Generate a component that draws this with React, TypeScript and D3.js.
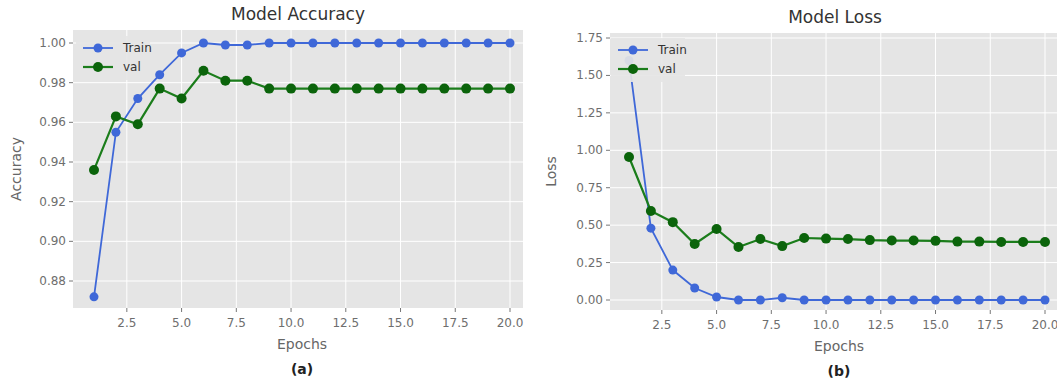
import React from "react";
import * as d3 from "d3";

const epochs = d3.range(1, 21);

const accTrain = [0.872, 0.955, 0.972, 0.984, 0.995, 1.0, 0.999, 0.999, 1.0, 1.0, 1.0, 1.0, 1.0, 1.0, 1.0, 1.0, 1.0, 1.0, 1.0, 1.0];
const accVal = [0.936, 0.963, 0.959, 0.977, 0.972, 0.986, 0.981, 0.981, 0.977, 0.977, 0.977, 0.977, 0.977, 0.977, 0.977, 0.977, 0.977, 0.977, 0.977, 0.977];

const lossTrain = [1.6, 0.48, 0.2, 0.08, 0.02, 0.0, 0.0, 0.015, 0.0, 0.0, 0.0, 0.0, 0.0, 0.0, 0.0, 0.0, 0.0, 0.0, 0.0, 0.0];
const lossVal = [0.955, 0.595, 0.52, 0.374, 0.474, 0.354, 0.407, 0.36, 0.414, 0.41, 0.407, 0.4, 0.397, 0.397, 0.395, 0.39, 0.39, 0.388, 0.388, 0.388];

const xTicks = [2.5, 5.0, 7.5, 10.0, 12.5, 15.0, 17.5, 20.0];
const accTicks = [0.88, 0.9, 0.92, 0.94, 0.96, 0.98, 1.0];
const lossTicks = [0.0, 0.25, 0.5, 0.75, 1.0, 1.25, 1.5, 1.75];

const TRAIN = "#3f68d8";
const VAL_LINE = "#1b7d1b";
const VAL_DOT = "#0b640b";
const FONT = "DejaVu Sans, sans-serif";

type PanelProps = {
  frame: { left: number; right: number; top: number; bottom: number };
  x1: number; // pixel of epoch 1
  x20: number; // pixel of epoch 20
  yDomain: [number, number];
  yRange: [number, number];
  yTicks: number[];
  train: number[];
  val: number[];
  title: string;
  ylabel: string;
  ylabelX: number;
  caption: string;
  legend: { x: number; y: number };
};

const Panel = (p: PanelProps) => {
  const { frame } = p;
  const x = d3.scaleLinear().domain([1, 20]).range([p.x1, p.x20]);
  const y = d3.scaleLinear().domain(p.yDomain).range(p.yRange);
  const line = d3
    .line<number>()
    .x((_, i) => x(epochs[i]))
    .y((d) => y(d));
  const cx = (frame.left + frame.right) / 2;
  const cy = (frame.top + frame.bottom) / 2;
  const clipId = `clip-${p.caption.replace(/\W/g, "")}`;

  return (
    <g fontFamily={FONT}>
      <defs>
        <clipPath id={clipId}>
          <rect x={frame.left} y={frame.top} width={frame.right - frame.left} height={frame.bottom - frame.top} />
        </clipPath>
      </defs>
      <rect x={frame.left} y={frame.top} width={frame.right - frame.left} height={frame.bottom - frame.top} fill="#e5e5e5" />
      {/* grid */}
      {xTicks.map((t) => (
        <line key={"gx" + t} x1={x(t)} x2={x(t)} y1={frame.top} y2={frame.bottom} stroke="#fff" strokeWidth={1} />
      ))}
      {p.yTicks.map((t) => (
        <line key={"gy" + t} x1={frame.left} x2={frame.right} y1={y(t)} y2={y(t)} stroke="#fff" strokeWidth={1} />
      ))}
      {/* ticks */}
      {xTicks.map((t) => (
        <g key={"tx" + t}>
          <line x1={x(t)} x2={x(t)} y1={frame.bottom} y2={frame.bottom + 4} stroke="#777" />
          <text x={x(t)} y={frame.bottom + 19} textAnchor="middle" fontSize={12} fill="#6e6e6e">
            {t.toFixed(1)}
          </text>
        </g>
      ))}
      {p.yTicks.map((t) => (
        <g key={"ty" + t}>
          <line x1={frame.left - 4} x2={frame.left} y1={y(t)} y2={y(t)} stroke="#777" />
          <text x={frame.left - 7} y={y(t) + 4} textAnchor="end" fontSize={12} fill="#6e6e6e">
            {t.toFixed(2)}
          </text>
        </g>
      ))}
      {/* series */}
      <g clipPath={`url(#${clipId})`}>
        <path d={line(p.train) ?? ""} fill="none" stroke={TRAIN} strokeWidth={1.8} />
        {p.train.map((v, i) => (
          <circle key={"tr" + i} cx={x(epochs[i])} cy={y(v)} r={4.5} fill={TRAIN} />
        ))}
        <path d={line(p.val) ?? ""} fill="none" stroke={VAL_LINE} strokeWidth={2.2} />
        {p.val.map((v, i) => (
          <circle key={"va" + i} cx={x(epochs[i])} cy={y(v)} r={5} fill={VAL_DOT} />
        ))}
      </g>
      {/* legend */}
      <g transform={`translate(${p.legend.x},${p.legend.y})`}>
        <rect x={-7} y={-12} width={74} height={44} fill="#e5e5e5" opacity={0.92} />
        <line x1={0} x2={30} y1={0} y2={0} stroke={TRAIN} strokeWidth={1.8} />
        <circle cx={15} cy={0} r={4.5} fill={TRAIN} />
        <text x={40} y={4} fontSize={12} fill="#333">Train</text>
        <line x1={0} x2={30} y1={19} y2={19} stroke={VAL_LINE} strokeWidth={2.2} />
        <circle cx={15} cy={19} r={5} fill={VAL_DOT} />
        <text x={40} y={23} fontSize={12} fill="#333">val</text>
      </g>
      {/* labels */}
      <text x={cx} y={frame.top - 10} textAnchor="middle" fontSize={17} fill="#333">
        {p.title}
      </text>
      <text x={cx + 4} y={frame.bottom + 41} textAnchor="middle" fontSize={14} fill="#666">
        Epochs
      </text>
      <text x={cx + 4} y={frame.bottom + 66} textAnchor="middle" fontSize={14} fontWeight="bold" fill="#222">
        {p.caption}
      </text>
      <text
        transform={`translate(${p.ylabelX},${cy}) rotate(-90)`}
        textAnchor="middle"
        fontSize={14}
        fill="#666"
      >
        {p.ylabel}
      </text>
    </g>
  );
};

export default function App() {
  return (
    <svg
      width={1057}
      height={381}
      style={{ position: "absolute", left: 0, top: 0, background: "#fff" }}
    >
      <Panel
        frame={{ left: 73, right: 523, top: 30, bottom: 308 }}
        x1={94}
        x20={510}
        yDomain={[0.88, 1.0]}
        yRange={[281, 43]}
        yTicks={accTicks}
        train={accTrain}
        val={accVal}
        title="Model Accuracy"
        ylabel="Accuracy"
        ylabelX={21}
        caption="(a)"
        legend={{ x: 83, y: 48 }}
      />
      <Panel
        frame={{ left: 610, right: 1060, top: 33, bottom: 310 }}
        x1={629}
        x20={1045}
        yDomain={[0, 1.75]}
        yRange={[300, 38]}
        yTicks={lossTicks}
        train={lossTrain}
        val={lossVal}
        title="Model Loss"
        ylabel="Loss"
        ylabelX={556}
        caption="(b)"
        legend={{ x: 618, y: 50 }}
      />
    </svg>
  );
}
